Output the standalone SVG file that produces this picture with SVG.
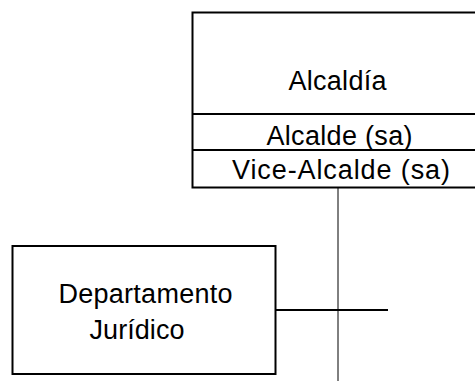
<svg xmlns="http://www.w3.org/2000/svg" width="475" height="381" viewBox="0 0 475 381">
<style>
.box{fill:#fff;stroke:#000;stroke-width:2}
.sep{stroke:#000;stroke-width:2}
.t{font-family:"Liberation Sans",Arial,sans-serif;font-size:27px;fill:#000;text-anchor:middle}
</style>
<rect width="475" height="381" fill="#fff"/>
<g id="connectors">
<line x1="338" y1="188" x2="338" y2="381" stroke="#000" stroke-width="1"/>
<line x1="275" y1="310" x2="388" y2="310" stroke="#000" stroke-width="2"/>
</g>
<g id="alcaldia">
<rect class="box" x="192.5" y="12.5" width="291" height="175"/>
<line class="sep" x1="192.5" y1="114" x2="484" y2="114"/>
<line class="sep" x1="192.5" y1="150" x2="484" y2="150"/>
<text class="t" x="337.5" y="89.5" textLength="98">Alcaldía</text>
<text class="t" x="339.5" y="145" textLength="146">Alcalde (sa)</text>
<text class="t" x="341" y="178.5" textLength="218">Vice-Alcalde (sa)</text>
</g>
<g id="juridico">
<rect class="box" x="12.5" y="246" width="263" height="128"/>
<text class="t" x="145.5" y="303" textLength="174">Departamento</text>
<text class="t" x="137" y="339" textLength="95">Jurídico</text>
</g>
</svg>
